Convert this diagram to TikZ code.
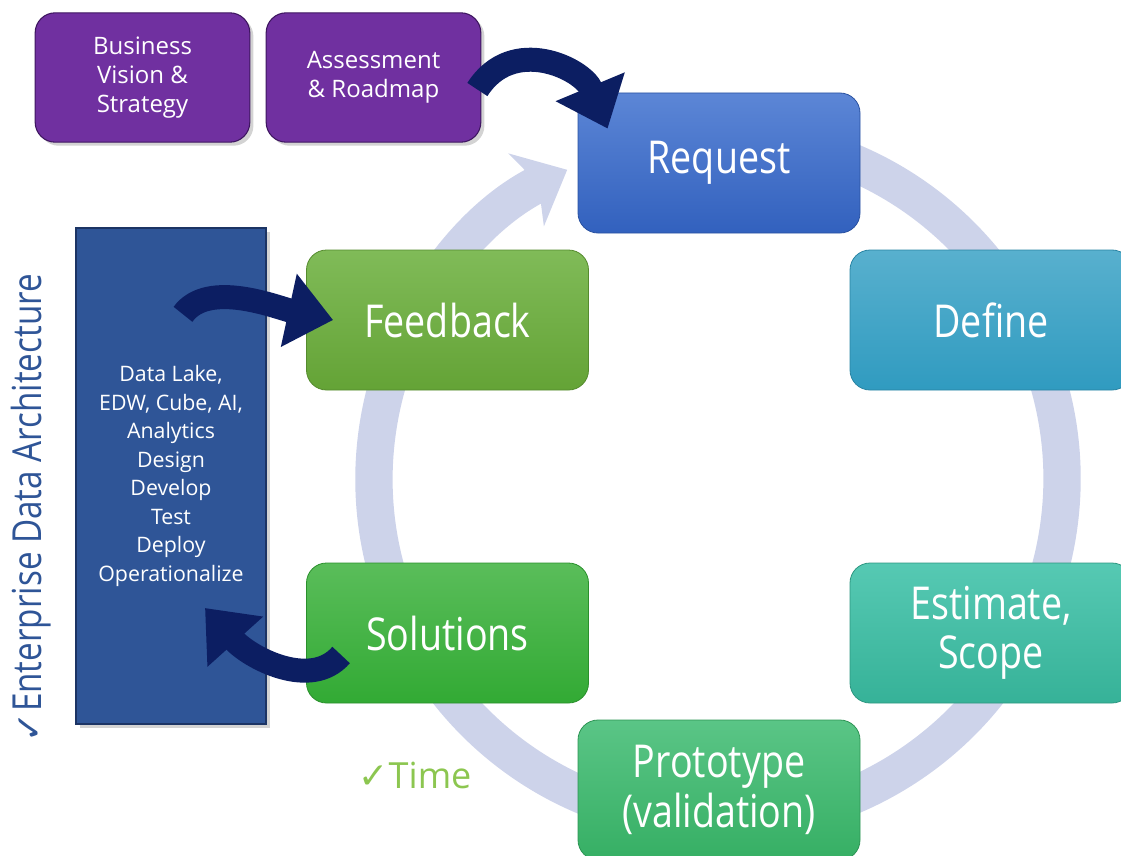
\documentclass[tikz,border=0pt]{standalone}
\usepackage{fontspec}
\setmainfont{Open Sans}
\newfontfamily\thinfont[FakeStretch=0.83]{Open Sans}
\newfontfamily\checkfont{DejaVu Sans}
\usetikzlibrary{arrows.meta,shadows}

\definecolor{vision}{RGB}{112,48,160}
\definecolor{visionedge}{RGB}{62,22,96}
\definecolor{eda}{RGB}{47,85,151}
\definecolor{edaedge}{RGB}{28,52,100}
\definecolor{arrownavy}{RGB}{12,30,98}
\definecolor{ring}{RGB}{205,211,234}
\definecolor{timegreen}{RGB}{140,198,80}
\definecolor{reqtop}{RGB}{92,134,214}
\definecolor{reqbot}{RGB}{50,97,190}
\definecolor{deftop}{RGB}{88,176,206}
\definecolor{defbot}{RGB}{48,155,192}
\definecolor{esttop}{RGB}{86,201,179}
\definecolor{estbot}{RGB}{54,178,152}
\definecolor{prototop}{RGB}{90,197,134}
\definecolor{protobot}{RGB}{54,175,100}
\definecolor{soltop}{RGB}{90,189,90}
\definecolor{solbot}{RGB}{50,170,52}
\definecolor{feedtop}{RGB}{128,187,88}
\definecolor{feedbot}{RGB}{100,163,54}

\tikzset{
	phase/.style 2 args={rounded corners=15pt, minimum width=211.5pt, minimum height=105pt,
		align=center, text=white, top color=#1, bottom color=#2, draw=#2!85!black,
		line width=0.6pt, font=\thinfont\fontsize{34}{37}\selectfont},
	plan/.style={rounded corners=15pt, minimum width=161pt, minimum height=97pt,
		align=center, text=white, fill=vision, draw=visionedge, line width=0.8pt,
		drop shadow={opacity=0.35}, font=\fontsize{18}{21.75}\selectfont},
	stack/.style={fill=eda, draw=edaedge, line width=1pt, minimum width=142.5pt,
		minimum height=372pt, align=center, text=white, drop shadow={opacity=0.35},
		font=\fontsize{16}{21.4}\selectfont},
	loopback/.style={line width=18pt, draw=arrownavy, -{Triangle[width=54pt,length=34pt]}},
}

\begin{document}
\begin{tikzpicture}[x=0.75pt,y=-0.75pt]
	\path[use as bounding box, clip] (0,0) rectangle (1121,856);
	\draw[line width=28pt, draw=ring, -{Stealth[width=60pt,length=34pt,inset=10pt]}] (718,479) ++(-80:344) arc[start angle=-80, end angle=244, radius=344];
	\node[plan] (vision) at (142.5,77.5) {Business\\Vision \&\\Strategy};
	\node[plan] (roadmap) at (373.5,77.5) {Assessment\\\& Roadmap};
	\node[stack] (eda) at (171,476) {Data Lake,\\EDW, Cube, AI,\\Analytics\\Design\\Develop\\Test\\Deploy\\Operationalize};
	\node[phase={reqtop}{reqbot}] (request) at (719,163) {Request};
	\node[phase={deftop}{defbot}] (define) at (991,320) {Define};
	\node[phase={esttop}{estbot}] (estimate) at (991,633) {Estimate,\\Scope};
	\node[phase={prototop}{protobot}] (prototype) at (719,790) {Prototype\\(validation)};
	\node[phase={soltop}{solbot}] (solutions) at (447.5,633) {Solutions};
	\node[phase={feedtop}{feedbot}] (feedback) at (447.5,320) {Feedback};
	\node[rotate=90, text=eda, font=\thinfont\fontsize{30}{32}\selectfont] (arch) at (31,508) {{\checkfont\fontsize{27}{27}\selectfont ✓}Enterprise Data Architecture};
	\node[text=timegreen, font=\fontsize{27}{30}\selectfont] (time) at (415,775) {{\checkfont ✓}Time};
	\draw[loopback] ([shift={(-4,12)}]roadmap.east) .. controls +(35,-55) and +(-25,-60) .. ([shift={(30,36)}]request.north west);
	\draw[loopback] ([shift={(12,87)}]eda.north) .. controls +(25,-35) and +(-55,-12) .. ([shift={(27,0)}]feedback.west);
	\draw[loopback] ([shift={(35,22)}]solutions.west) .. controls +(-30,35) and +(45,50) .. ([shift={(34,132)}]eda.center);
\end{tikzpicture}
\end{document}
